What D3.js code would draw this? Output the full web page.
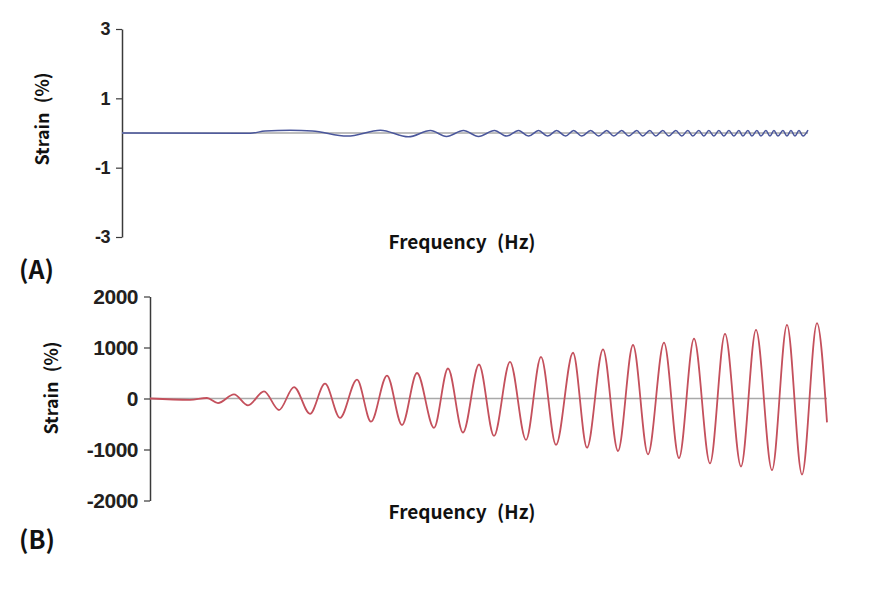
<!DOCTYPE html>
<html>
<head>
<meta charset="utf-8">
<script src="https://cdn.jsdelivr.net/npm/d3@7"></script>
<style>
body { margin: 0; background: #fff; }
.tick text { font-family: "Liberation Sans", Arial, sans-serif; font-weight: bold; }
</style>
</head>
<body>
<div id="chart"></div>
<script>
// panel A: time (s) and strain (%) at the turning points of the blue trace
const timeA = [0, 1.28, 1.43, 1.68, 1.90, 2.25, 2.58, 2.86,
  3.08, 3.24, 3.41, 3.56, 3.72, 3.84, 3.96, 4.06, 4.16, 4.25,
  4.34, 4.43, 4.51, 4.59, 4.68, 4.76, 4.84, 4.91, 4.99, 5.06,
  5.14, 5.20, 5.27, 5.33, 5.40, 5.46, 5.53, 5.59, 5.65, 5.70,
  5.76, 5.81, 5.86, 5.91, 5.96, 6.01, 6.06, 6.11, 6.16, 6.20,
  6.25, 6.29, 6.34, 6.38, 6.43, 6.47, 6.51, 6.55, 6.60, 6.64,
  6.68, 6.72, 6.76, 6.80, 6.85];
const strainA = [0, -0.01, 0.06, 0.08, 0.06, -0.09, 0.08, -0.11,
  0.07, -0.10, 0.07, -0.10, 0.07, -0.09, 0.07, -0.09, 0.07, -0.09,
  0.07, -0.09, 0.07, -0.09, 0.07, -0.09, 0.07, -0.09, 0.07, -0.09,
  0.07, -0.09, 0.07, -0.09, 0.07, -0.09, 0.07, -0.09, 0.07, -0.09,
  0.07, -0.09, 0.07, -0.09, 0.07, -0.09, 0.07, -0.09, 0.07, -0.09,
  0.07, -0.09, 0.07, -0.09, 0.07, -0.09, 0.07, -0.09, 0.07, -0.09,
  0.07, -0.09, 0.07, -0.09, 0.08];
const ticksA = [3, 1, -1, -3];

// panel B: same for the red trace
const timeB = [0, 0.40, 0.57, 0.68, 0.84, 0.98, 1.14, 1.29, 1.44, 1.60,
  1.75, 1.90, 2.07, 2.21, 2.37, 2.52, 2.67, 2.84, 2.98, 3.13,
  3.29, 3.44, 3.60, 3.76, 3.91, 4.06, 4.23, 4.37, 4.53, 4.68,
  4.83, 4.98, 5.14, 5.29, 5.44, 5.60, 5.75, 5.91, 6.06, 6.22,
  6.37, 6.52, 6.67, 6.77];
const strainB = [0, -25, 10, -90, 80, -135, 140, -225, 225, -300,
  290, -380, 370, -455, 450, -520, 500, -575, 588, -667,
  667, -733, 719, -812, 818, -911, 897, -964, 964, -1030,
  1049, -1095, 1095, -1168, 1174, -1273, 1267, -1333, 1346, -1406,
  1445, -1491, 1479, -469];
const ticksB = [2000, 1000, 0, -1000, -2000];

const xTitle = 'Frequency (Hz)';
const yTitle = 'Strain (%)';
const panelNames = ['(A)', '(B)'];

const width = 873, height = 601;
const svg = d3.select('#chart').append('svg')
  .attr('width', width).attr('height', height)
  .style('font-family', '"Noto Sans CJK KR", "Noto Sans", sans-serif');

function drawPanel(p) {
  const g = svg.append('g');
  const x = d3.scaleLinear().domain([0, d3.max(p.t)]).range(p.xr);
  const y = d3.scaleLinear().domain([p.ticks[p.ticks.length - 1], p.ticks[0]]).range(p.yr);

  // y axis, plain hyphen minus like the original
  const axis = g.append('g')
    .attr('transform', `translate(${p.xr[0]},0)`)
    .call(d3.axisLeft(y).tickValues(p.ticks).tickFormat(d => String(d))
      .tickSize(6).tickSizeOuter(0).tickPadding(6));
  axis.attr('font-family', null);
  axis.select('.domain').attr('stroke', '#3a3a3a').attr('stroke-width', 1.5);
  axis.selectAll('.tick line').attr('stroke', '#3a3a3a').attr('stroke-width', 1.2);
  axis.selectAll('.tick text')
    .attr('font-family', 'Liberation Sans')
    .style('font-size', p.tickFont + 'px')
    .style('letter-spacing', p.tickSpacing + 'px')
    .attr('fill', '#231f20');

  // zero line
  g.append('line')
    .attr('x1', x.range()[0]).attr('x2', x.range()[1])
    .attr('y1', y(0)).attr('y2', y(0))
    .attr('stroke', '#a9a9a9').attr('stroke-width', 1.5);

  // trace
  const pts = p.t.map((t, i) => ({ t: t, v: p.v[i] }));
  const line = d3.line().x(d => x(d.t)).y(d => y(d.v)).curve(d3.curveMonotoneX);
  g.append('path')
    .attr('d', line(pts))
    .attr('fill', 'none')
    .attr('stroke', p.color)
    .attr('stroke-width', p.lw);

  // titles
  g.append('text')
    .attr('transform', `translate(${p.yTitlePos[0]},${p.yTitlePos[1]}) rotate(-90)`)
    .attr('text-anchor', 'middle')
    .attr('dominant-baseline', 'central')
    .style('font-size', '18px').style('font-weight', 'bold')
    .style('word-spacing', '5px')
    .attr('fill', '#111')
    .text(yTitle);
  g.append('text')
    .attr('x', 462).attr('y', p.xTitleY)
    .attr('text-anchor', 'middle')
    .style('font-size', '19px').style('font-weight', 'bold')
    .style('word-spacing', '6px')
    .attr('fill', '#111')
    .text(xTitle);
  g.append('text')
    .attr('x', 19).attr('y', p.nameY)
    .style('font-size', '25px').style('font-weight', 'bold')
    .attr('fill', '#111')
    .text(p.name);
}

drawPanel({ t: timeA, v: strainA, ticks: ticksA, xr: [122, 808], yr: [237, 29],
  color: '#4a569b', lw: 1.5, tickFont: 18, tickSpacing: -0.5, yTitlePos: [41, 119], xTitleY: 249,
  name: panelNames[0], nameY: 279 });
drawPanel({ t: timeB, v: strainB, ticks: ticksB, xr: [150, 827], yr: [500.5, 296.5],
  color: '#c4505c', lw: 1.8, tickFont: 21, tickSpacing: -0.5, yTitlePos: [50, 388], xTitleY: 519,
  name: panelNames[1], nameY: 549 });
</script>
</body>
</html>
